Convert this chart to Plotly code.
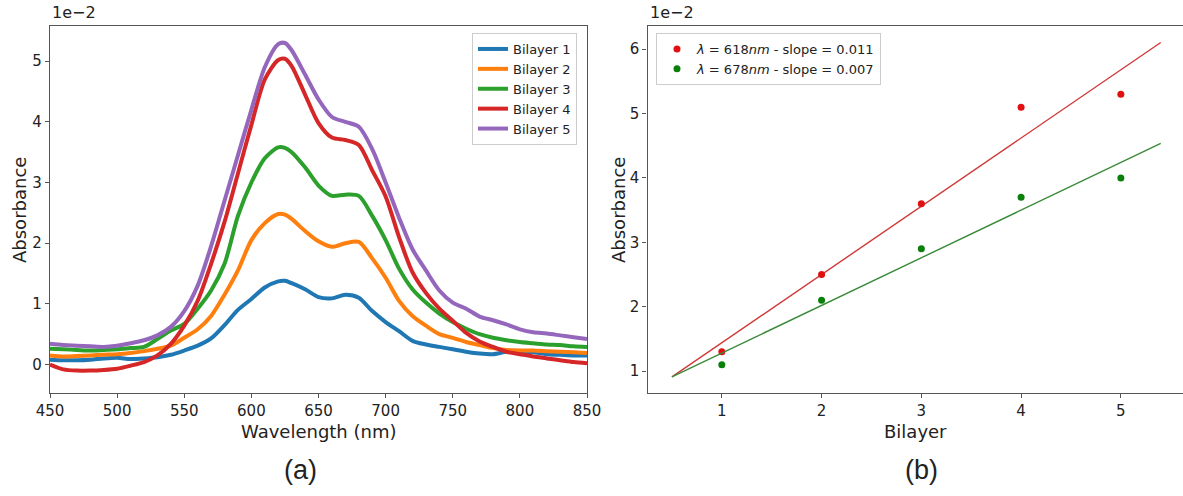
import numpy as np
import plotly.graph_objects as go

# ---------------- data: panel (a) absorption spectra (units of 1e-2) ----------------
wavelength = [450, 460, 470, 480, 490, 500, 510, 520, 530, 540, 550, 560, 570, 580, 590,
              600, 610, 620, 625, 630, 640, 650, 660, 670, 680, 690, 700, 710, 720, 730,
              740, 750, 760, 770, 780, 790, 800, 810, 820, 830, 840, 850]

bilayer1 = [0.08, 0.07, 0.07, 0.08, 0.10, 0.11, 0.09, 0.10, 0.12, 0.16, 0.23, 0.31, 0.43, 0.65, 0.90,
            1.08, 1.27, 1.37, 1.38, 1.34, 1.24, 1.11, 1.09, 1.15, 1.10, 0.88, 0.70, 0.55, 0.39, 0.33,
            0.29, 0.25, 0.21, 0.18, 0.17, 0.21, 0.21, 0.20, 0.17, 0.16, 0.15, 0.15]
bilayer2 = [0.15, 0.13, 0.14, 0.15, 0.16, 0.17, 0.19, 0.22, 0.26, 0.31, 0.44, 0.58, 0.80, 1.15, 1.55,
            2.05, 2.33, 2.48, 2.47, 2.40, 2.20, 2.03, 1.94, 2.00, 2.02, 1.75, 1.43, 1.05, 0.80, 0.64,
            0.50, 0.44, 0.37, 0.32, 0.27, 0.24, 0.23, 0.23, 0.22, 0.21, 0.20, 0.19]
bilayer3 = [0.26, 0.25, 0.24, 0.23, 0.24, 0.25, 0.27, 0.29, 0.42, 0.56, 0.67, 0.92, 1.22, 1.66, 2.45,
            3.00, 3.40, 3.58, 3.57, 3.50, 3.25, 2.95, 2.78, 2.80, 2.78, 2.45, 2.05, 1.58, 1.24, 1.02,
            0.84, 0.70, 0.59, 0.50, 0.44, 0.40, 0.37, 0.35, 0.33, 0.32, 0.30, 0.29]
bilayer4 = [0.00, -0.08, -0.10, -0.10, -0.09, -0.07, -0.02, 0.04, 0.15, 0.34, 0.64, 1.05, 1.66, 2.35, 3.15,
            3.95, 4.70, 5.02, 5.04, 4.92, 4.45, 3.98, 3.74, 3.70, 3.62, 3.20, 2.77, 2.10, 1.52, 1.18,
            0.92, 0.72, 0.52, 0.38, 0.29, 0.21, 0.17, 0.13, 0.10, 0.07, 0.04, 0.02]
bilayer5 = [0.34, 0.32, 0.31, 0.30, 0.29, 0.31, 0.35, 0.40, 0.48, 0.62, 0.88, 1.30, 1.95, 2.70, 3.45,
            4.20, 4.90, 5.28, 5.30, 5.18, 4.78, 4.37, 4.08, 4.00, 3.92, 3.55, 3.00, 2.42, 1.90, 1.55,
            1.22, 1.02, 0.92, 0.79, 0.73, 0.66, 0.58, 0.53, 0.51, 0.48, 0.45, 0.42]

spectra_names = ["Bilayer 1", "Bilayer 2", "Bilayer 3", "Bilayer 4", "Bilayer 5"]
spectra_colors = ["#1f77b4", "#ff7f0e", "#2ca02c", "#d62728", "#9467bd"]

# ---------------- data: panel (b) absorbance vs bilayer (units of 1e-2) ----------------
bilayers = [1, 2, 3, 4, 5]
abs_618 = [1.3, 2.5, 3.6, 5.1, 5.3]
abs_678 = [1.1, 2.1, 2.9, 3.7, 4.0]
fit_x = [0.5, 5.4]

FONT = "DejaVu Sans"
W, H = 1183, 496
AX = "#555555"

fig = go.Figure()

for name, col, ys in zip(spectra_names, spectra_colors,
                         [bilayer1, bilayer2, bilayer3, bilayer4, bilayer5]):
    fig.add_trace(go.Scatter(x=wavelength, y=ys, mode="lines", name=name,
                             line=dict(color=col, width=4, shape="spline", smoothing=0.8),
                             xaxis="x", yaxis="y", legend="legend"))

# linear fits
for ys, mcol, lcol, lam in [(abs_618, "#e01010", "#cf3a3a", 618), (abs_678, "#0a7f0a", "#3a8a3a", 678)]:
    slope, icpt = np.polyfit(bilayers, ys, 1)
    fx = np.array(fit_x)
    fig.add_trace(go.Scatter(x=fx, y=slope * fx + icpt, mode="lines", showlegend=False,
                             line=dict(color=lcol, width=1.4), xaxis="x2", yaxis="y2"))
    label = "<i>λ</i> = %d<i>nm</i> - slope = %.3f" % (lam, slope / 100)
    fig.add_trace(go.Scatter(x=bilayers, y=ys, mode="markers", name=label,
                             marker=dict(color=mcol, size=7),
                             xaxis="x2", yaxis="y2", legend="legend2"))

def px(x):
    return x / W

def py(y):
    return 1 - y / H

ydom = [py(393), py(26)]
axis_common = dict(showline=True, linecolor=AX, linewidth=1.2, ticks="outside",
                   ticklen=4, tickcolor=AX, tickwidth=1.2, showgrid=False, zeroline=False,
                   automargin=False,
                   tickfont=dict(family=FONT, size=15, color="#222222"))

fig.update_layout(
    width=W, height=H, margin=dict(l=0, r=0, t=0, b=0, pad=0, autoexpand=False),
    paper_bgcolor="white", plot_bgcolor="white",
    font=dict(family=FONT, color="#222222"),
    xaxis=dict(domain=[px(50), px(587)], range=[450, 850], tickvals=list(range(450, 851, 50)),
               mirror=True, anchor="y", **axis_common),
    yaxis=dict(domain=ydom, range=[-0.47, 5.58], tickvals=[0, 1, 2, 3, 4, 5],
               mirror=True, anchor="x", **axis_common),
    xaxis2=dict(domain=[px(647.5), 1.0], range=[0.255, 5.623], tickvals=bilayers,
                mirror=True, anchor="y2", **axis_common),
    yaxis2=dict(domain=ydom, range=[0.66, 6.36], tickvals=[1, 2, 3, 4, 5, 6],
                mirror=False, anchor="x2", **axis_common),
    legend=dict(x=px(472), y=py(33), xanchor="left", yanchor="top",
                bgcolor="white", bordercolor="#cccccc", borderwidth=1,
                font=dict(family=FONT, size=13, color="#222222"), tracegroupgap=0),
    legend2=dict(x=px(656), y=py(33), xanchor="left", yanchor="top",
                 bgcolor="white", bordercolor="#cccccc", borderwidth=1,
                 font=dict(family=FONT, size=13, color="#222222"), tracegroupgap=0),
)

ann = [
    dict(text="1e\u22122", x=px(50), y=py(24), xanchor="left", yanchor="bottom", size=16),
    dict(text="1e\u22122", x=px(647.5), y=py(24), xanchor="left", yanchor="bottom", size=16),
    dict(text="Wavelength (nm)", x=px(318.5), y=py(431), xanchor="center", yanchor="middle", size=18),
    dict(text="Bilayer", x=px(915.5), y=py(431), xanchor="center", yanchor="middle", size=18),
    dict(text="(a)", x=px(300), y=py(470), xanchor="center", yanchor="middle", size=27, fam="Liberation Sans"),
    dict(text="(b)", x=px(921), y=py(470), xanchor="center", yanchor="middle", size=27, fam="Liberation Sans"),
]
for a in ann:
    fig.add_annotation(text=a["text"], x=a["x"], y=a["y"], xref="paper", yref="paper",
                       xanchor=a["xanchor"], yanchor=a["yanchor"], showarrow=False,
                       font=dict(family=a.get("fam", FONT), size=a["size"], color="#222222"))
for xp in [20, 619]:
    fig.add_annotation(text="Absorbance", x=px(xp), y=py(210), xref="paper", yref="paper",
                       textangle=-90, showarrow=False, xanchor="center", yanchor="middle",
                       font=dict(family=FONT, size=18, color="#222222"))

fig.write_html("out.html", config={"displayModeBar": False},
               post_script="document.body.style.margin='0';document.body.style.overflow='hidden';")
